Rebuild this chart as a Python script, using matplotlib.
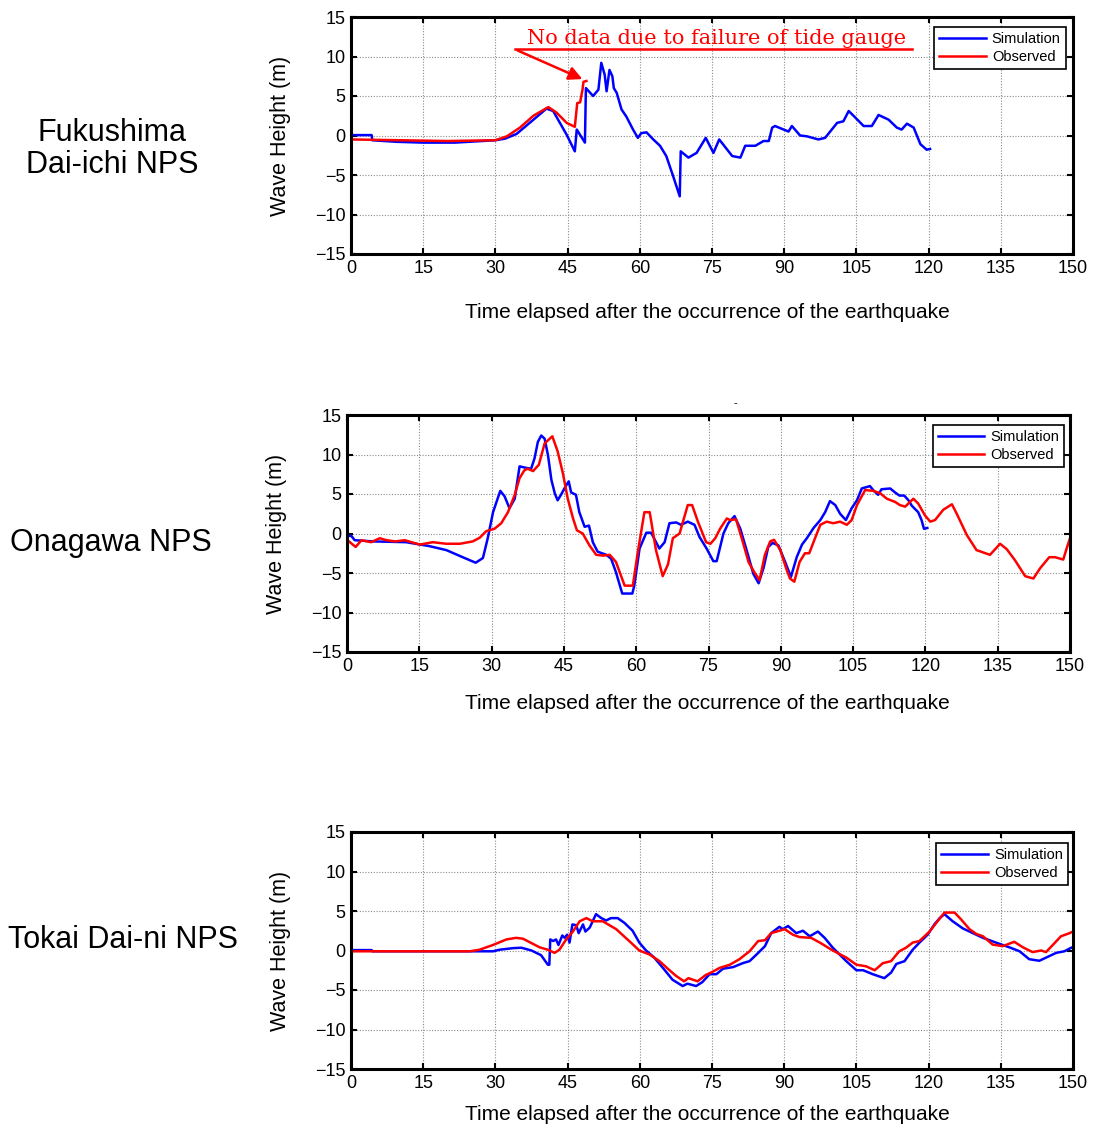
import matplotlib
matplotlib.use("Agg")
import matplotlib.pyplot as plt

plt.rcParams['font.family'] = ['Liberation Sans', 'DejaVu Sans']

# Fukushima Dai-ichi NPS (time in minutes, wave height in m)
fuku_sim_t = [0, 4.3, 4.4, 9.5, 15, 21.6, 30, 32, 34.4, 37.9, 40.6, 42, 43.4, 44.8, 46.5,
              46.9, 48.6, 48.8, 50.3, 51.4, 52, 52.7, 53.1, 53.7, 54.3, 54.6, 55.2, 56.2,
              57.2, 58.6, 59.6, 60.3, 61.4, 62.8, 64.2, 65.5, 66.9, 68.3, 68.5, 70.1, 71.8,
              73.7, 75.3, 76.5, 79.2, 80.9, 81.9, 84, 85.7, 86.8, 87.5, 88.1, 90.9, 91.6,
              93.3, 94.7, 97.1, 98.5, 101, 102.3, 103.4, 104.4, 106.5, 108.2, 109.6, 111.7,
              113.4, 114.4, 115.5, 116.9, 118.3, 119.6, 120.3]
fuku_sim_v = [0.05, 0.05, -0.6, -0.8, -0.9, -0.9, -0.6, -0.4, 0.2, 2.0, 3.4, 3.1, 1.6, 0.1, -2.0,
              0.75, -0.9, 6.0, 5.0, 5.8, 9.2, 7.7, 5.6, 8.3, 7.5, 6.0, 5.4, 3.3,
              2.4, 0.75, -0.3, 0.3, 0.4, -0.5, -1.3, -2.6, -5.1, -7.7, -2.0, -2.8, -2.2,
              -0.3, -2.2, -0.5, -2.6, -2.8, -1.3, -1.3, -0.7, -0.7, 1.0, 1.2, 0.5, 1.2,
              0.0, -0.1, -0.5, -0.3, 1.6, 1.8, 3.1, 2.5, 1.2, 1.2, 2.6, 2.0,
              1.0, 0.75, 1.5, 1.0, -1.1, -1.8, -1.7]
fuku_obs_t = [0, 10, 20, 30, 32.4, 35.1, 37.9, 41, 42.7, 44.8, 46.5, 47, 47.6, 48.1, 48.3, 48.9]
fuku_obs_v = [-0.5, -0.6, -0.7, -0.6, -0.1, 1.0, 2.5, 3.6, 2.9, 1.6, 1.1, 4.1, 4.2, 5.8, 6.8, 6.9]

# Onagawa NPS
ona_sim_t = [0, 0.9, 1.6, 5.4, 12.3, 17.1, 20.6, 24, 26.7, 28.2, 29.2, 30.3, 31.8, 32.7, 33.7,
             34.8, 35.8, 37.2, 38.2, 38.9, 39.6, 40.3, 41, 41.7, 42.4, 43.1, 43.7, 44.4, 45.1,
             46, 46.5, 47.5, 48.2, 49.3, 50.2, 51, 52, 53.8, 54.8, 55.8, 57.1, 59.2, 59.6,
             60.7, 62.1, 63.1, 64.8, 65.9, 66.9, 68.3, 69.3, 70.7, 72.1, 73.1, 74.6, 76,
             76.7, 78.1, 79.1, 80.4, 81.6, 83, 84.3, 85.4, 86.4, 87.4, 88.3, 89.5, 90.9,
             92.1, 93.3, 94.4, 95.4, 96.8, 98.2, 99.2, 100.2, 101.3, 102.3, 103.5, 104.7,
             105.8, 106.8, 108.5, 109.3, 110.2, 110.9, 112.7, 113.7, 114.6, 115.6, 116.5,
             117.2, 118.5, 119.2, 119.7, 120.4]
ona_sim_v = [-0.3, -0.3, -0.85, -1.0, -1.1, -1.6, -2.1, -3.0, -3.7, -3.1, -0.6, 2.7, 5.4, 4.7, 3.2,
             4.4, 8.5, 8.3, 8.2, 9.5, 11.6, 12.4, 12.0, 9.9, 6.8, 5.1, 4.2, 4.9, 5.7,
             6.6, 5.2, 4.9, 2.7, 0.85, 1.0, -1.1, -2.3, -2.7, -3.2, -4.9, -7.6, -7.6, -6.6,
             -1.9, 0.1, 0.1, -1.9, -1.1, 1.3, 1.4, 1.1, 1.5, 1.1, -0.4, -1.9, -3.5,
             -3.5, 0.0, 1.3, 2.2, 0.6, -2.3, -5.1, -6.3, -4.4, -1.7, -1.2, -1.5, -3.6,
             -5.5, -3.0, -1.4, -0.6, 0.7, 1.7, 2.7, 4.1, 3.6, 2.5, 1.7, 3.2,
             4.2, 5.7, 6.0, 5.4, 4.9, 5.6, 5.7, 5.2, 4.8, 4.8, 4.2,
             3.5, 2.7, 1.7, 0.6, 0.7]
ona_obs_t = [0, 1.8, 3, 5, 6.8, 8.2, 10, 12, 15.1, 17.8, 20.6, 23.4, 26.1, 27.5, 28.9, 30.6,
             32, 33.4, 34.8, 35.8, 36.8, 37.5, 38.6, 39.8, 41, 42.6, 43.7, 44.8, 45.8, 46.9,
             47.7, 48.9, 50.3, 51.7, 53.1, 54.5, 55.8, 57.6, 59.3, 60.3, 61.7, 62.8, 64.1,
             65.5, 66.6, 67.6, 69, 70.7, 71.6, 72.8, 74.5, 75.4, 76.4, 77.4, 78.8, 79.5,
             80.7, 81.9, 83.3, 84.5, 85.6, 86.7, 87.8, 88.6, 89.9, 91.1, 91.9, 92.8, 93.9,
             95, 95.9, 97.1, 98.2, 99.5, 100.9, 102.3, 103.7, 104.7, 105.8, 107.5, 109.2,
             110.6, 112, 113.7, 114.7, 115.8, 117.5, 118.5, 119.9, 121, 122, 123.7, 125.5,
             126.5, 128.6, 130.6, 132, 133.4, 135.5, 136.9, 138.6, 140.7, 142.4, 143.8,
             145.7, 146.9, 148.6, 149.3, 150]
ona_obs_v = [-0.8, -1.7, -0.85, -1.1, -0.6, -0.85, -1.0, -0.85, -1.4, -1.1, -1.3, -1.3, -1.0, -0.55, 0.3, 0.6,
             1.3, 2.7, 4.9, 7.0, 8.0, 8.2, 7.9, 8.7, 11.4, 12.3, 10.4, 7.6, 4.4, 1.9,
             0.4, 0.0, -1.5, -2.7, -2.8, -2.7, -3.6, -6.6, -6.6, -2.5, 2.7, 2.7, -2.1,
             -5.4, -3.9, -0.6, 0.0, 3.6, 3.6, 1.5, -1.1, -1.3, -0.6, 0.6, 1.9, 1.7,
             1.8, -0.6, -3.6, -4.9, -5.9, -2.7, -1.0, -0.8, -2.1, -4.4, -5.7, -6.1, -3.6,
             -2.5, -2.5, -0.6, 1.1, 1.5, 1.3, 1.5, 1.1, 1.7, 3.6, 5.5, 5.4,
             5.1, 4.4, 4.0, 3.6, 3.4, 4.4, 3.8, 2.3, 1.5, 1.7, 3.0, 3.7,
             2.5, -0.2, -2.1, -2.4, -2.7, -1.3, -2.0, -3.4, -5.4, -5.7, -4.4,
             -3.0, -3.0, -3.3, -1.9, -0.6]

# Tokai Dai-ni NPS
tokai_sim_t = [0, 4.3, 4.4, 24.7, 29.5, 30.9, 33.7, 35.4, 37.5, 39.5, 40.9, 41.2, 41.4, 42, 42.6,
               43.1, 43.9, 44.4, 44.9, 45.4, 46, 46.8, 47.3, 48.2, 48.7, 49.6, 49.9, 50.9, 52,
               53, 54, 55.4, 56.8, 58.5, 59.9, 61.3, 63, 64.8, 66.8, 68.9, 69.9, 71.7, 73,
               74.5, 75.9, 77.3, 79.4, 81.4, 82.8, 84.6, 86, 87.3, 89, 89.7, 90.8, 92.5, 93.9,
               95.3, 97, 98.4, 100.1, 102.9, 105, 106.4, 108.4, 110.8, 112.2, 113.3, 115,
               116.7, 118.1, 119.8, 121.2, 122.3, 123.3, 125, 127.1, 129.2, 131.3, 134, 136.8,
               138.9, 140.9, 143, 144.4, 146.5, 148.2, 149.8, 150]
tokai_sim_v = [0.05, 0.05, -0.1, -0.1, -0.1, 0.1, 0.3, 0.35, 0.0, -0.6, -1.8, -1.8, 1.4, 1.2, 1.4,
               0.7, 1.9, 1.6, 2.0, 1.0, 3.3, 3.2, 2.2, 3.3, 2.4, 2.9, 3.3, 4.6, 4.1,
               3.8, 4.1, 4.1, 3.5, 2.5, 1.0, 0.0, -0.9, -2.2, -3.7, -4.5, -4.2, -4.5, -4.0,
               -3.0, -3.0, -2.3, -2.1, -1.6, -1.35, -0.3, 0.55, 2.2, 3.0, 2.7, 3.1, 2.2, 2.5,
               1.8, 2.4, 1.6, 0.35, -1.35, -2.5, -2.5, -3.0, -3.5, -2.8, -1.7, -1.35,
               0.1, 1.0, 2.0, 3.3, 4.1, 4.6, 3.7, 2.8, 2.2, 1.6, 1.0, 0.4,
               -0.1, -1.1, -1.3, -0.9, -0.3, -0.1, 0.4, 0.4]
tokai_obs_t = [0, 24.7, 26.7, 29.5, 32.3, 34.3, 35.7, 39.2, 40.9, 42.3, 43.3, 44.7, 46.1, 47.5,
               48.9, 50.2, 52.3, 55.1, 57.8, 59.9, 62, 64.1, 65.8, 67.5, 69.2, 70.1, 72, 73.7,
               74.8, 76.6, 78.7, 80.7, 82.8, 84.6, 86, 87.3, 89, 90.1, 91.8, 93.2, 95.6, 97.4,
               100.1, 102.9, 105, 107, 108.8, 110.5, 112.2, 113.9, 115.3, 116.7, 118.1, 120.2,
               121.6, 123.3, 125.4, 126.8, 128.5, 129.9, 131.3, 133.3, 135.4, 137.8, 139.6,
               141.6, 143.4, 144.4, 145.8, 147.5, 149.3, 150]
tokai_obs_v = [-0.1, -0.1, 0.1, 0.7, 1.4, 1.6, 1.5, 0.4, 0.1, -0.3, 0.1, 1.4, 2.4, 3.7,
               4.1, 3.7, 3.7, 2.7, 1.2, 0.0, -0.5, -1.35, -2.3, -3.2, -3.9, -3.5, -3.9, -3.1,
               -2.8, -2.2, -1.8, -1.1, -0.1, 1.2, 1.3, 2.2, 2.5, 2.7, 2.0, 1.7, 1.6, 1.0,
               0.0, -0.9, -1.8, -2.0, -2.5, -1.6, -1.35, -0.1, 0.35, 1.0, 1.2, 2.4,
               3.5, 4.8, 4.8, 3.9, 2.7, 2.1, 1.8, 0.75, 0.55, 1.1, 0.4,
               -0.2, 0.0, -0.2, 0.7, 1.8, 2.2, 2.4]

stations = ["Fukushima\nDai-ichi NPS", "Onagawa NPS", "Tokai Dai-ni NPS"]
xticks = [0, 15, 30, 45, 60, 75, 90, 105, 120, 135, 150]
yticks = [-15, -10, -5, 0, 5, 10, 15]

W, H = 1095, 1133
fig = plt.figure(figsize=(W / 100, H / 100), dpi=100)


def make_axes(left, top, right, bottom):
    return fig.add_axes([left / W, 1 - bottom / H, (right - left) / W, (bottom - top) / H])


ax1 = make_axes(351, 17, 1073, 254)
ax2 = make_axes(347, 415, 1070, 652)
ax3 = make_axes(351, 832, 1073, 1069)

panels = [
    (ax1, fuku_sim_t, fuku_sim_v, fuku_obs_t, fuku_obs_v, -0.245, 0.494, (0.990, 0.958)),
    (ax2, ona_sim_t, ona_sim_v, ona_obs_t, ona_obs_v, -0.219, 0.499, (0.992, 0.958)),
    (ax3, tokai_sim_t, tokai_sim_v, tokai_obs_t, tokai_obs_v, -0.194, 0.494, (0.993, 0.954)),
]

for ax, st, sv, ot, ov, xl_y, xl_x, leg_pos in panels:
    ax.plot(st, sv, color='#0000ff', lw=1.8, label='Simulation')
    ax.plot(ot, ov, color='#ff0000', lw=1.8, label='Observed')
    ax.set_xlim(0, 150)
    ax.set_ylim(-15, 15)
    ax.set_xticks(xticks)
    ax.set_yticks(yticks)
    ax.grid(True, color='#8c8c8c', lw=0.8, ls=(0, (1, 1.5)))
    ax.tick_params(direction='in', top=True, right=True, length=4, width=1.5,
                   labelsize=13, pad=4)
    for sp in ax.spines.values():
        sp.set_linewidth(2.2)
    ax.set_ylabel('Wave Height (m)', fontsize=15.5)
    ax.yaxis.set_label_coords(-0.083, 0.5)
    ax.set_xlabel('Time elapsed after the occurrence of the earthquake', fontsize=15)
    ax.xaxis.set_label_coords(xl_x, xl_y)
    ax.xaxis.label.set_va('center')
    leg = ax.legend(loc='upper right', bbox_to_anchor=leg_pos, fontsize=10.5,
                    handlelength=3.2, handletextpad=0.4, labelspacing=0.25,
                    borderpad=0.35, borderaxespad=0, fancybox=False, framealpha=1)
    leg.get_frame().set_edgecolor('black')
    leg.get_frame().set_linewidth(1.2)

# annotation on the Fukushima panel
ax1.plot([34.1, 116.6], [10.9, 10.9], color='#ff0000', lw=1.8, clip_on=False)
ax1.annotate('', xy=(48.6, 7.0), xytext=(34.1, 10.9),
             arrowprops=dict(arrowstyle='-|>', color='#ff0000', lw=1.8, mutation_scale=20))
ax1.text(36.6, 11.1, 'No data due to failure of tide gauge', color='#ff0000',
         fontsize=15, family='DejaVu Serif', va='bottom', ha='left')

# station names on the left
fig.text(112 / W, 1 - 149 / H, stations[0], fontsize=22, ha='center', va='center',
         linespacing=1.05)
fig.text(111 / W, 1 - 543 / H, stations[1], fontsize=22, ha='center', va='center')
fig.text(123 / W, 1 - 940 / H, stations[2], fontsize=22, ha='center', va='center')
fig.text(735 / W, 1 - 403 / H, '-', fontsize=8, ha='center', va='center')

fig.savefig('out.png', dpi=100)
